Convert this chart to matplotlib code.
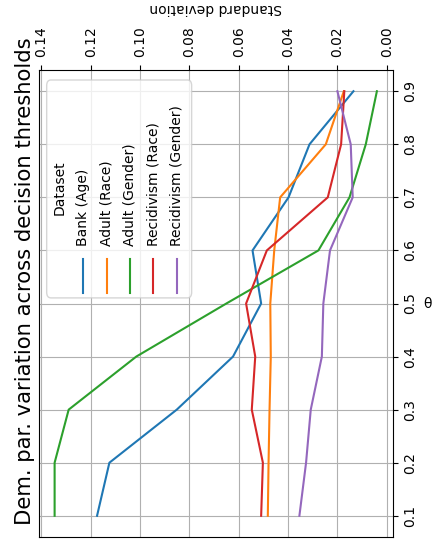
import matplotlib
matplotlib.use('Agg')
import matplotlib.pyplot as plt
from matplotlib.patches import FancyBboxPatch
from matplotlib.lines import Line2D

theta = [0.1, 0.2, 0.3, 0.4, 0.5, 0.6, 0.7, 0.8, 0.9]
bank_age = [0.1174, 0.1124, 0.0851, 0.0623, 0.0509, 0.0544, 0.0398, 0.0313, 0.0135]
adult_race = [0.0482, 0.0479, 0.0475, 0.0470, 0.0472, 0.0456, 0.0432, 0.0247, 0.0174]
adult_gender = [0.1346, 0.1346, 0.1289, 0.1015, 0.0650, 0.0277, 0.0151, 0.0085, 0.0040]
recid_race = [0.0509, 0.0502, 0.0547, 0.0533, 0.0570, 0.0486, 0.0239, 0.0185, 0.0172]
recid_gender = [0.0354, 0.0327, 0.0308, 0.0263, 0.0257, 0.0230, 0.0138, 0.0146, 0.0200]

names = ['Bank (Age)', 'Adult (Race)', 'Adult (Gender)', 'Recidivism (Race)', 'Recidivism (Gender)']
series = [bank_age, adult_race, adult_gender, recid_race, recid_gender]
colors = ['tab:blue', 'tab:orange', 'tab:green', 'tab:red', 'tab:purple']

fig = plt.figure(figsize=(4.4, 5.4), dpi=100)
ax = fig.add_axes([38.5 / 440, 3 / 540, 354.5 / 440, 467 / 540])

# figure is drawn turned on its side: std on x (reversed), theta on y
for vals, c in zip(series, colors):
    ax.plot(vals, theta, color=c, lw=1.5)

ax.invert_xaxis()
ax.grid(True)
ax.set_axisbelow(True)
ax.xaxis.tick_top()
ax.xaxis.set_label_position('top')
ax.yaxis.tick_right()
ax.yaxis.set_label_position('right')
ax.set_xticks([0.14, 0.12, 0.10, 0.08, 0.06, 0.04, 0.02, 0.00])
ax.set_yticks(theta)
ax.tick_params(axis='x', labelrotation=90, pad=6)
ax.tick_params(axis='y', labelrotation=90)
for lab in ax.get_yticklabels():
    lab.set_va('center')
ax.set_xlabel('Standard deviation', rotation=180, va='center', ha='center')
ax.xaxis.set_label_coords(0.5, (537 - 8.5) / 467)
ax.set_ylabel('θ', rotation=0, va='center', labelpad=8)

fig.text(25 / 440, 15 / 540, 'Dem. par. variation across decision thresholds',
         rotation=90, ha='center', va='bottom', fontsize=15.2)

# legend, built by hand because it is rotated
box = FancyBboxPatch((0.0231, 0.512), 0.432 - 0.0231, 0.9786 - 0.512,
                     boxstyle='round,pad=0,rounding_size=0.012', transform=ax.transAxes,
                     facecolor='white', edgecolor='0.8', alpha=0.8, lw=1, zorder=5)
ax.add_patch(box)
ax.text(0.0606, 0.748, 'Dataset', rotation=90, ha='center', va='center',
        transform=ax.transAxes, zorder=6)
xs = [0.1264, 0.1925, 0.2581, 0.3239, 0.3898]
for x, name, c in zip(xs, names, colors):
    ax.add_line(Line2D([x, x], [0.522, 0.595], color=c, lw=1.5, transform=ax.transAxes, zorder=6))
    ax.text(x, 0.623, name, rotation=90, ha='center', va='bottom',
            transform=ax.transAxes, zorder=6)

plt.savefig('out.png', dpi=100)
